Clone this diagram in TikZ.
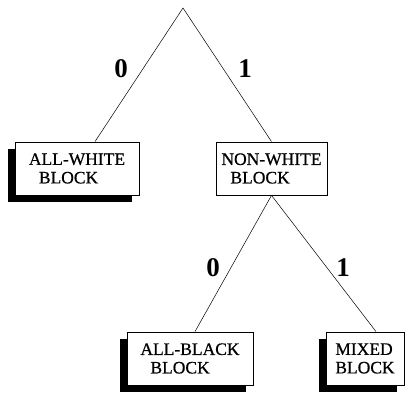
\documentclass[tikz,border=0pt]{standalone}
\usepackage{fontspec}
\setmainfont{Liberation Serif}
\newfontfamily\boxfont{Liberation Serif}[FakeBold=0.6]
\usetikzlibrary{calc,shadows}
\begin{document}
\begin{tikzpicture}[x=1pt,y=1pt,
  box/.style={draw,line width=0.8pt,fill=white,minimum height=53pt,align=left,inner sep=0pt,font=\boxfont\fontsize{17.5}{18.5}\selectfont},
  shbox/.style={box,drop shadow={shadow xshift=-7pt,shadow yshift=-7pt,opacity=1,fill=black}},
  edge/.style={line width=0.5pt},
  lbl/.style={font=\bfseries\fontsize{27}{27}\selectfont}]
\useasboundingbox (0,0) rectangle (406,395);
\coordinate (apex) at (183,387);
\node[shbox,minimum width=124pt] (b1) at (77,226.5) {ALL-WHITE\\\hspace{10pt}BLOCK};
\node[box,minimum width=111pt] (b2) at (271.5,226.5) {NON-WHITE\\\hspace{9pt}BLOCK};
\node[shbox,minimum width=126pt] (b3) at (190,36.5) {ALL-BLACK\\\hspace{10pt}BLOCK};
\node[shbox,minimum width=78pt] (b4) at (365,36.5) {MIXED\\BLOCK};
\draw[edge] (apex) -- ($(b1.north)+(18,0)$);
\draw[edge] (apex) -- (b2.north);
\draw[edge] (b2.south) -- ($(b3.north)+(5,0)$);
\draw[edge] (b2.south) -- ($(b4.north)+(11,0)$);
\node[lbl] (l0) at (121,326) {0};
\node[lbl] (l1) at (245,326) {1};
\node[lbl] (l2) at (213,127) {0};
\node[lbl] (l3) at (343,127) {1};
\end{tikzpicture}
\end{document}
